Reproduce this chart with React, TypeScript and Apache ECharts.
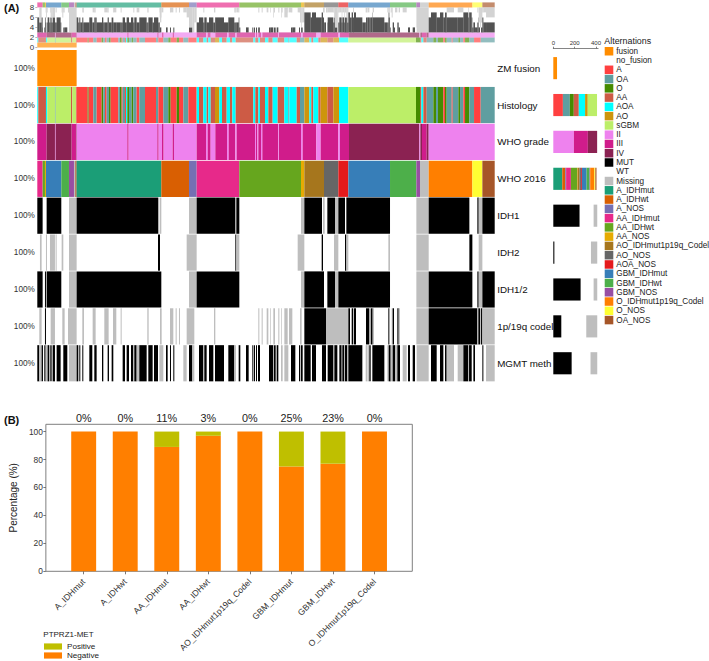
import React, { useEffect, useRef } from "react";
import * as echarts from "echarts";

const FONT = "Arial, 'Liberation Sans', sans-serif";

// Oncoprint columns: every run is "code:lastColumn", columns run from firstColumn to lastColumn.
const firstColumn = 112;
const lastColumn = 1484;

const rowNames = ["ZM fusion", "Histology", "WHO grade", "WHO 2016", "IDH1", "IDH2", "IDH1/2", "1p/19q codel", "MGMT meth"];
const rowPercents = rowNames.map(() => "100%");

const fusionRuns = "fusion:230 no_fusion:1484";
const histologyRuns =
  "AOA:115 AA:138 AOA:142 sGBM:165 OA:167 sGBM:213 AA:217 sGBM:228 AA:230 A:263 O:266 A:280 OA:290 A:305 O:310 OA:315 A:320 OA:327 O:332 A:355 OA:360 O:365 A:368 OA:375 A:378 AOA:382 O:387 OA:395 O:400 OA:410 A:418 OA:435 A:468 OA:475 A:490 OA:505 O:512 A:530 O:537 A:550 OA:565 A:590 AOA:597 AA:610 AOA:620 AA:625 AOA:632 AA:645 AO:658 AOA:666 AA:680 AOA:690 AA:697 AOA:707 AA:760 AOA:766 AA:775 AOA:780 AA:795 AOA:805 AA:818 AOA:833 AA:853 AOA:865 OA:868 AOA:890 AA:900 OA:913 AO:928 AOA:934 AA:940 AOA:955 AA:962 AO:982 AA:1000 AO:1017 AOA:1045 sGBM:1248 O:1260 AA:1264 AOA:1270 AA:1280 OA:1300 O:1308 OA:1314 O:1330 A:1335 O:1340 OA:1355 A:1358 OA:1375 O:1380 OA:1390 A:1395 O:1408 OA:1422 A:1442 OA:1484";
const gradeRuns =
  "III:140 IV:165 II:167 IV:215 III:228 IV:230 II:382 III:386 II:472 III:476 II:486 III:491 II:518 III:522 II:590 III:618 II:623 III:632 II:646 III:681 II:686 III:706 II:710 III:765 II:768 III:772 II:775 III:783 II:787 III:835 II:837 III:903 II:908 III:949 II:962 III:1015 II:1020 III:1047 IV:1258 II:1261 IV:1266 III:1280 IV:1286 II:1484";
const who2016Runs =
  "AA_IDHmut:128 AA_IDHwt:135 AA_NOS:138 GBM_IDHmut:184 GBM_IDHwt:207 GBM_NOS:222 Missing:226 OA_NOS:230 A_IDHmut:484 A_IDHwt:567 A_NOS:590 AA_IDHmut:718 AA_IDHwt:903 AA_NOS:913 AO_IDHmut1p19q_Codel:972 AO_NOS:1015 AOA_NOS:1045 GBM_IDHmut:1170 GBM_IDHwt:1249 GBM_NOS:1260 Missing:1286 O_IDHmut1p19q_Codel:1417 O_NOS:1447 OA_NOS:1484";
const idh1Runs =
  "MUT:128 WT:140 MUT:184 WT:207 Missing:230 MUT:475 WT:479 Missing:484 WT:567 Missing:590 MUT:706 WT:709 MUT:718 WT:903 Missing:913 MUT:966 WT:969 Missing:974 WT:982 MUT:1005 Missing:1015 MUT:1035 WT:1039 MUT:1170 WT:1249 Missing:1286 MUT:1408 WT:1432 MUT:1436 Missing:1447 MUT:1484";
const idh2Runs =
  "WT:120 Missing:125 WT:138 Missing:141 WT:150 Missing:165 WT:167 Missing:170 WT:185 Missing:190 WT:207 Missing:230 WT:474 MUT:480 WT:560 Missing:590 WT:706 MUT:709 Missing:718 WT:893 Missing:913 WT:965 MUT:969 WT:1002 Missing:1015 WT:1035 MUT:1039 Missing:1045 WT:1165 Missing:1170 WT:1249 Missing:1286 WT:1408 MUT:1417 WT:1436 Missing:1447 WT:1484";
const idh12Runs =
  "MUT:128 WT:135 MUT:138 WT:140 MUT:184 WT:207 Missing:230 MUT:484 WT:567 Missing:590 MUT:718 WT:903 Missing:913 MUT:972 WT:982 MUT:1005 Missing:1015 MUT:1170 WT:1249 Missing:1286 MUT:1417 WT:1432 MUT:1436 Missing:1447 MUT:1484";
const codelRuns =
  "WT:118 Missing:125 WT:135 MUT:138 WT:152 Missing:165 WT:187 Missing:194 WT:204 Missing:230 WT:247 Missing:252 WT:278 Missing:287 WT:313 Missing:326 WT:339 Missing:349 WT:362 Missing:365 WT:442 Missing:446 WT:480 Missing:485 WT:510 Missing:520 WT:527 Missing:530 WT:537 Missing:540 WT:560 Missing:583 WT:642 Missing:646 WT:775 Missing:778 WT:785 Missing:788 WT:800 Missing:805 WT:810 Missing:812 WT:820 Missing:825 WT:835 Missing:838 WT:843 Missing:845 WT:853 Missing:863 WT:867 Missing:877 WT:900 Missing:905 WT:913 MUT:978 Missing:1045 MUT:1050 WT:1055 MUT:1059 Missing:1062 MUT:1068 WT:1098 MUT:1108 WT:1112 MUT:1118 Missing:1122 WT:1165 MUT:1168 WT:1175 Missing:1178 MUT:1182 WT:1192 MUT:1196 Missing:1200 WT:1249 Missing:1286 MUT:1432 Missing:1435 MUT:1440 Missing:1443 MUT:1447 Missing:1484";
const mgmtRuns =
  "MUT:118 Missing:125 MUT:129 WT:133 MUT:137 Missing:143 MUT:148 WT:151 MUT:155 WT:158 MUT:165 WT:170 MUT:182 WT:190 MUT:202 WT:207 Missing:230 MUT:235 WT:238 MUT:241 WT:247 MUT:250 WT:268 MUT:277 WT:283 MUT:290 WT:306 MUT:310 WT:323 MUT:327 WT:335 MUT:340 WT:368 MUT:375 WT:380 MUT:387 WT:393 MUT:400 Missing:403 MUT:410 Missing:418 MUT:440 WT:445 MUT:458 WT:462 MUT:474 WT:478 Missing:490 WT:498 MUT:503 WT:510 MUT:513 WT:520 MUT:523 WT:550 Missing:560 WT:567 MUT:577 Missing:583 WT:597 MUT:610 Missing:613 MUT:620 WT:627 MUT:640 WT:645 MUT:672 WT:685 MUT:703 Missing:708 WT:716 MUT:721 WT:738 MUT:746 WT:757 MUT:760 WT:762 MUT:765 WT:768 MUT:771 WT:774 MUT:780 WT:807 MUT:820 Missing:822 MUT:827 WT:830 MUT:835 WT:843 Missing:848 WT:853 Missing:865 WT:873 MUT:886 WT:897 MUT:900 Missing:903 MUT:908 WT:913 MUT:932 WT:936 MUT:948 WT:966 MUT:978 WT:983 MUT:1000 WT:1003 MUT:1012 WT:1018 MUT:1025 Missing:1027 MUT:1033 Missing:1035 MUT:1042 Missing:1045 MUT:1087 WT:1097 Missing:1102 WT:1103 Missing:1108 MUT:1112 WT:1117 MUT:1153 WT:1162 Missing:1166 MUT:1172 Missing:1178 MUT:1185 Missing:1192 MUT:1200 WT:1208 Missing:1220 WT:1224 MUT:1230 WT:1238 MUT:1245 WT:1250 Missing:1286 WT:1293 MUT:1310 WT:1320 MUT:1330 WT:1335 MUT:1340 Missing:1362 WT:1373 Missing:1390 MUT:1405 Missing:1407 MUT:1415 WT:1420 MUT:1425 WT:1447 MUT:1450 WT:1458 Missing:1484";

const trackRuns = [fusionRuns, histologyRuns, gradeRuns, who2016Runs, idh1Runs, idh2Runs, idh12Runs, codelRuns, mgmtRuns];

// Sample counts in the bars on the right of each row.
const sideRows: [string, number][][] = [
  [["fusion", 35], ["no_fusion", 375]],
  [["A", 90], ["OA", 65], ["O", 37], ["AA", 47], ["AOA", 59], ["AO", 25], ["sGBM", 87]],
  [["II", 193], ["III", 131], ["IV", 87]],
  [["A_IDHmut", 84], ["A_IDHwt", 28], ["A_NOS", 8], ["AA_IDHmut", 45], ["AA_IDHwt", 58], ["AA_NOS", 5], ["AO_IDHmut1p19q_Codel", 18], ["AO_NOS", 13], ["AOA_NOS", 9], ["GBM_IDHmut", 44], ["GBM_IDHwt", 28], ["GBM_NOS", 6], ["O_IDHmut1p19q_Codel", 39], ["O_NOS", 9], ["OA_NOS", 11]],
  [["MUT", 246], ["WT", 132], ["Missing", 34]],
  [["MUT", 10], ["WT", 343], ["Missing", 59]],
  [["MUT", 256], ["WT", 122], ["Missing", 34]],
  [["MUT", 75], ["WT", 234], ["Missing", 103]],
  [["MUT", 172], ["WT", 177], ["Missing", 63]],
];
const sideTicks = [0, 200, 400];

const legendNames = [
  "fusion", "no_fusion", "A", "OA", "O", "AA", "AOA", "AO", "sGBM", "II", "III", "IV", "MUT", "WT", "Missing",
  "A_IDHmut", "A_IDHwt", "A_NOS", "AA_IDHmut", "AA_IDHwt", "AA_NOS", "AO_IDHmut1p19q_Codel", "AO_NOS", "AOA_NOS",
  "GBM_IDHmut", "GBM_IDHwt", "GBM_NOS", "O_IDHmut1p19q_Codel", "O_NOS", "OA_NOS",
];
const palette: Record<string, string> = {
  fusion: "#FF8C00", no_fusion: "transparent", A: "#FF4040", OA: "#5F9EA0", O: "#458B00", AA: "#CD5B45", AOA: "#00FFFF",
  AO: "#CD950C", sGBM: "#BCEE68", II: "#EE82EE", III: "#D01C8B", IV: "#8B2252", MUT: "#000000", WT: "transparent",
  Missing: "#BEBEBE", A_IDHmut: "#1B9E77", A_IDHwt: "#D95F02", A_NOS: "#7570B3", AA_IDHmut: "#E7298A", AA_IDHwt: "#66A61E",
  AA_NOS: "#E6AB02", AO_IDHmut1p19q_Codel: "#A6761D", AO_NOS: "#666666", AOA_NOS: "#E41A1C", GBM_IDHmut: "#377EB8",
  GBM_IDHwt: "#4DAF4A", GBM_NOS: "#984EA3", O_IDHmut1p19q_Codel: "#FF7F00", O_NOS: "#FFFF33", OA_NOS: "#A65628",
};

// Panel B
const subtypes = ["A_IDHmut", "A_IDHwt", "AA_IDHmut", "AA_IDHwt", "AO_IDHmut1p19q_Codel", "GBM_IDHmut", "GBM_IDHwt", "O_IDHmut1p19q_Codel"];
const negative = [100, 100, 89, 97, 100, 75, 77, 100];
const positive = [0, 0, 11, 3, 0, 25, 23, 0];
const positiveLabels = ["0%", "0%", "11%", "3%", "0%", "25%", "23%", "0%"];
const percentTicks = [0, 20, 40, 60, 80, 100];
const topCountTicks = [0, 2, 4, 6, 8];

type Run = { code: string; from: number; to: number };
const parseRuns = (text: string): Run[] => {
  let from = firstColumn;
  return text.split(" ").map((part) => {
    const [code, end] = part.split(":");
    const run = { code, from, to: Number(end) };
    from = run.to;
    return run;
  });
};

export default function App() {
  const ref = useRef<HTMLDivElement>(null);
  useEffect(() => {
    const chart = echarts.init(ref.current!, undefined, { renderer: "svg" });
    const tracks = trackRuns.map(parseRuns);

    // Main heat map cells
    const mainCells: { x0: number; x1: number; row: number; color: string }[] = [];
    tracks.forEach((runs, row) =>
      runs.forEach((r) => {
        if (palette[r.code] !== "transparent") mainCells.push({ x0: r.from, x1: r.to, row, color: palette[r.code] });
      })
    );

    // Stacked summary above the heat map: annotation rows plus counts over the five binary tracks
    const topCells: { x0: number; x1: number; y0: number; y1: number; color: string }[] = [];
    const addStrip = (runs: Run[], y0: number) =>
      runs.forEach((r) => {
        if (palette[r.code] !== "transparent") topCells.push({ x0: r.from, x1: r.to, y0, y1: y0 + 1, color: palette[r.code] });
      });
    addStrip(tracks[0], 0);
    addStrip(tracks[1], 1);
    addStrip(tracks[2], 2);
    addStrip(tracks[3], 8);
    const binary = tracks.slice(4);
    const edges = Array.from(new Set(binary.flat().flatMap((r) => [r.from, r.to]))).sort((a, b) => a - b);
    for (let i = 0; i < edges.length - 1; i++) {
      const mid = (edges[i] + edges[i + 1]) / 2;
      let mut = 0;
      let miss = 0;
      binary.forEach((runs) => {
        const hit = runs.find((r) => r.from <= mid && mid < r.to);
        if (hit?.code === "MUT") mut++;
        if (hit?.code === "Missing") miss++;
      });
      if (mut) topCells.push({ x0: edges[i], x1: edges[i + 1], y0: 3, y1: 3 + mut, color: "#000000" });
      if (miss) topCells.push({ x0: edges[i], x1: edges[i + 1], y0: 8 - miss, y1: 8, color: "#BEBEBE" });
    }

    const sideSeries = legendNames.map((name) => ({
      name,
      type: "bar",
      stack: "side",
      xAxisIndex: 2,
      yAxisIndex: 3,
      barWidth: "60%",
      silent: true,
      itemStyle: { color: palette[name] },
      data: sideRows.map((row) => row.find((c) => c[0] === name)?.[1] ?? 0),
    }));

    const panelXMin = 0.09;
    const panelXMax = 8.91;
    const subtypeTicks = subtypes.map((_, i) => i + 1);

    // Bars of panel B: [position, from, to] on the panel's own axes
    const pctBar = (name: string, color: string, low: number[], values: number[]) => ({
      name, type: "custom", xAxisIndex: 3, yAxisIndex: 4, silent: true,
      itemStyle: { color },
      encode: { x: 0, y: [1, 2] },
      data: values.map((v, i) => [i + 1, low[i], low[i] + v]),
      renderItem: (_: any, api: any) => {
        const half = api.size([0.6, 0])[0] / 2;
        const a = api.coord([api.value(0), api.value(2)]);
        const b = api.coord([api.value(0), api.value(1)]);
        return {
          type: "rect",
          shape: { x: a[0] - half, y: a[1], width: half * 2, height: b[1] - a[1] },
          style: { fill: color },
        };
      },
    });

    chart.setOption({
      animation: false,
      backgroundColor: "#fff",
      textStyle: { fontFamily: FONT },
      grid: [
        { left: 37.3, top: 2.4, width: 457.4, height: 45 },
        { left: 37.3, top: 49.7, width: 457.4, height: 332 },
        { left: 553.3, top: 49.7, width: 44.8, height: 332 },
        { left: 37.3, top: 424.3, width: 375, height: 147, show: true, borderColor: "#7f7f7f", borderWidth: 1, backgroundColor: "transparent" },
      ],
      xAxis: [
        { gridIndex: 0, type: "value", min: firstColumn, max: lastColumn, show: false },
        { gridIndex: 1, type: "value", min: firstColumn, max: lastColumn, show: false },
        {
          gridIndex: 2, type: "value", position: "top", min: 0, max: 420, offset: 1, splitLine: { show: false },
          axisLine: { show: true, lineStyle: { color: "#666", width: 0.8 } },
          axisTick: { show: true, length: 2, customValues: sideTicks, lineStyle: { color: "#666", width: 0.8 } },
          axisLabel: { customValues: sideTicks, fontSize: 6, color: "#333", margin: 3, fontFamily: FONT },
        },
        {
          gridIndex: 3, type: "value", min: panelXMin, max: panelXMax, splitLine: { show: false },
          axisLine: { show: false },
          axisTick: { show: true, length: 3, customValues: subtypeTicks, lineStyle: { color: "#555", width: 0.8 } },
          axisLabel: {
            customValues: subtypeTicks, rotate: 45, fontSize: 8.6, color: "#333", margin: 9, verticalAlign: "middle", fontFamily: FONT,
            formatter: (v: number) => subtypes[v - 1] ?? "",
          },
        },
        {
          gridIndex: 3, type: "value", position: "top", min: panelXMin, max: panelXMax, splitLine: { show: false },
          axisLine: { show: false }, axisTick: { show: false },
          axisLabel: {
            customValues: subtypeTicks, fontSize: 10.8, color: "#222", margin: 1, fontFamily: FONT,
            formatter: (v: number) => positiveLabels[v - 1] ?? "",
          },
        },
      ],
      yAxis: [
        {
          gridIndex: 0, type: "value", min: 0, max: 9, splitLine: { show: false }, axisLine: { show: false },
          axisTick: { show: true, length: 2, customValues: topCountTicks, lineStyle: { color: "#888", width: 0.6 } },
          axisLabel: { customValues: topCountTicks, fontSize: 8, color: "#333", margin: 3, fontFamily: FONT },
        },
        {
          gridIndex: 1, type: "category", inverse: true, data: rowPercents, axisLine: { show: false }, axisTick: { show: false },
          axisLabel: { fontSize: 8.2, color: "#333", margin: 2.5, fontFamily: FONT },
        },
        {
          gridIndex: 1, type: "category", inverse: true, position: "right",
          data: rowNames.map((value, i) => (i === 0 ? { value, textStyle: { padding: [0, 0, 9, 0] } } : value)),
          axisLine: { show: false }, axisTick: { show: false },
          axisLabel: { fontSize: 9.8, color: "#111", margin: 2.5, fontFamily: FONT },
        },
        { gridIndex: 2, type: "category", inverse: true, data: rowNames, show: false },
        {
          gridIndex: 3, type: "value", min: 0, max: 105.2, splitLine: { show: false }, axisLine: { show: false },
          name: "Percentage (%)", nameLocation: "middle", nameGap: 27, nameRotate: 90,
          nameTextStyle: { fontSize: 10, color: "#222", fontFamily: FONT },
          axisTick: { show: true, length: 2.5, customValues: percentTicks, lineStyle: { color: "#555", width: 0.8 } },
          axisLabel: { customValues: percentTicks, fontSize: 8.4, color: "#333", margin: 3, fontFamily: FONT },
        },
      ],
      legend: [
        {
          data: legendNames, orient: "vertical", left: 604.7, top: 47, padding: 0, itemWidth: 8.6, itemHeight: 8.5, itemGap: 0.77,
          icon: "rect", selectedMode: false,
          textStyle: { fontSize: 8.2, lineHeight: 8.5, color: "#222", fontFamily: FONT, padding: [0, 0, 0, -2] },
        },
        {
          data: ["Positive", "Negative"], orient: "vertical", left: 44, top: 642.5, height: 30, padding: 0, itemWidth: 18, itemHeight: 6.2, itemGap: 1,
          icon: "rect", selectedMode: false,
          textStyle: { fontSize: 8.1, lineHeight: 6.2, color: "#222", fontFamily: FONT },
        },
      ],
      graphic: [
        { type: "text", left: 4, top: 2, style: { text: "(A)", font: `bold 11px ${FONT}`, fill: "#111" } },
        { type: "text", left: 4, top: 414.5, style: { text: "(B)", font: `bold 11px ${FONT}`, fill: "#111" } },
        { type: "text", left: 604.3, top: 36, style: { text: "Alternations", font: `8.9px ${FONT}`, fill: "#222" } },
        { type: "text", left: 43.3, top: 630, style: { text: "PTPRZ1-MET", font: `8px ${FONT}`, fill: "#222" } },
      ],
      series: [
        {
          type: "custom", xAxisIndex: 0, yAxisIndex: 0, silent: true, clip: false,
          encode: { x: [0, 1], y: [2, 3] },
          data: topCells.map((c) => [c.x0, c.x1, c.y0, c.y1]),
          renderItem: (params: any, api: any) => {
            const c = topCells[params.dataIndex];
            const a = api.coord([c.x0, c.y1]);
            const b = api.coord([c.x1, c.y0]);
            return {
              type: "rect",
              shape: { x: a[0], y: a[1], width: b[0] - a[0], height: b[1] - a[1] },
              style: { fill: c.color, opacity: 0.68 },
            };
          },
        },
        {
          type: "custom", xAxisIndex: 1, yAxisIndex: 1, silent: true, clip: false,
          encode: { x: [0, 1], y: 2 },
          data: mainCells.map((c) => [c.x0, c.x1, c.row]),
          renderItem: (params: any, api: any) => {
            const c = mainCells[params.dataIndex];
            const a = api.coord([c.x0, c.row]);
            const b = api.coord([c.x1, c.row]);
            const band = api.size([0, 1])[1];
            return {
              type: "rect",
              shape: { x: a[0], y: a[1] - band / 2 + 0.35, width: b[0] - a[0], height: band - 0.7 },
              style: { fill: c.color },
            };
          },
        },
        ...sideSeries,
        pctBar("Negative", "#FF7F00", negative.map(() => 0), negative),
        pctBar("Positive", "#BFBF00", negative, positive),
      ],
    });
    return () => chart.dispose();
  }, []);
  return <div ref={ref} style={{ position: "absolute", left: 0, top: 0, width: 709, height: 661 }} />;
}
